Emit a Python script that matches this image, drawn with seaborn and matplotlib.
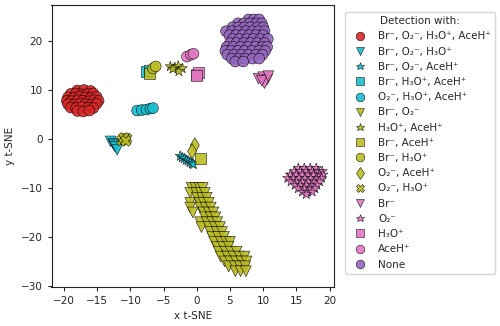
import matplotlib
matplotlib.use("Agg")
import matplotlib.pyplot as plt
import seaborn as sns
import pandas as pd

# ---- data ----
labels = [
    "Br⁻, O₂⁻, H₃O⁺, AceH⁺", "Br⁻, O₂⁻, H₃O⁺", "Br⁻, O₂⁻, AceH⁺", "Br⁻, H₃O⁺, AceH⁺",
    "O₂⁻, H₃O⁺, AceH⁺", "Br⁻, O₂⁻", "H₃O⁺, AceH⁺", "Br⁻, AceH⁺", "Br⁻, H₃O⁺",
    "O₂⁻, AceH⁺", "O₂⁻, H₃O⁺", "Br⁻", "O₂⁻", "H₃O⁺", "AceH⁺", "None",
]
colors = ["#d62728", "#17becf", "#17becf", "#17becf", "#17becf", "#bcbd22", "#bcbd22",
          "#bcbd22", "#bcbd22", "#bcbd22", "#bcbd22", "#e377c2", "#e377c2", "#e377c2",
          "#e377c2", "#9467bd"]
markers = ["o", "v", "*", "s", "o", "v", "*", "s", "o", "d", "X", "v", "*", "s", "o", "o"]

red_x = [-18.0, -17.0, -16.0,
         -19.0, -18.2, -17.4, -16.5, -15.6,
         -19.4, -18.5, -17.7, -16.8, -16.0, -15.1,
         -19.6, -18.9, -17.9, -17.2, -16.3, -15.5, -14.8,
         -19.4, -18.5, -17.6, -16.8, -15.9, -15.1,
         -19.0, -18.2, -17.3, -16.4, -15.6,
         -18.0, -17.1, -16.2]
red_y = [9.9, 10.0, 9.8,
         9.2, 9.3, 9.1, 9.2, 9.3,
         8.5, 8.4, 8.6, 8.5, 8.4, 8.6,
         7.8, 7.7, 7.9, 7.8, 7.7, 7.9, 7.8,
         7.1, 7.0, 7.2, 7.1, 7.0, 7.2,
         6.4, 6.3, 6.5, 6.4, 6.3,
         5.7, 5.6, 5.8]

cyan_tri_x = [-13.0, -12.6, -12.4, -12.3, -12.0]
cyan_tri_y = [-0.5, -1.0, -1.3, -1.6, -2.2]

cyan_star_x = [-2.5, -2.2, -1.9, -1.6, -1.3, -1.0, -0.7, -0.5]
cyan_star_y = [-3.5, -3.8, -4.0, -4.3, -4.5, -4.8, -5.0, -5.2]

cyan_sq_x = [-7.6, -7.2]
cyan_sq_y = [13.8, 14.0]

cyan_circ_x = [-9.0, -8.3, -7.6, -7.0, -6.6]
cyan_circ_y = [5.8, 5.9, 6.0, 6.2, 6.3]

olive_tri_x = [-0.8, -0.2, 0.4, 0.9,
               -1.0, -0.1, 0.6, 1.2,
               0.0, 0.8, 1.5,
               -1.0, 0.4, 1.0, 1.8,
               -1.0, 0.5, 1.3, 2.1,
               -0.6, 1.0, 1.8, 2.5,
               1.2, 2.1, 2.8,
               0.5, 1.5, 2.3, 3.1,
               0.7, 1.8, 2.7, 3.5,
               2.0, 3.0, 3.8,
               2.3, 3.2, 4.1,
               2.6, 3.6, 4.4, 5.0,
               3.0, 3.9, 4.8,
               3.3, 4.3, 5.1, 6.0,
               3.6, 4.6, 5.5, 6.4, 7.2,
               4.2, 5.0, 5.9, 6.7, 7.5,
               4.8, 5.7, 6.5, 7.3,
               5.8, 6.6, 7.4]
olive_tri_y = [-10.0] * 4 + [-11.0] * 4 + [-12.0] * 3 + [-13.0] * 4 + [-14.0] * 4 + \
              [-15.0] * 4 + [-16.0] * 3 + [-17.0] * 4 + [-18.0] * 4 + [-19.0] * 3 + \
              [-20.0] * 3 + [-21.0] * 4 + [-22.0] * 3 + [-23.0] * 4 + [-24.0] * 5 + \
              [-25.0] * 5 + [-26.0] * 4 + [-27.0] * 3

olive_star_x = [-4.0, -3.3, -2.8, -2.2, -2.7, -3.6]
olive_star_y = [14.8, 14.6, 14.9, 14.4, 13.8, 14.3]

olive_sq_x = [-7.1, 0.5]
olive_sq_y = [13.3, -4.0]

olive_circ_x = [-6.6, -6.2]
olive_circ_y = [14.4, 14.8]

olive_dia_x = [-0.3, -0.7]
olive_dia_y = [-1.3, -2.5]

olive_x_x = [-11.3, -10.6, -11.0, -10.7]
olive_x_y = [-0.3, 0.1, 0.2, -0.4]

pink_tri_x = [9.3, 10.0, 10.6, 10.2, 9.8, 10.8]
pink_tri_y = [12.3, 12.6, 12.1, 11.4, 11.9, 12.8]

pink_star_x = [15.3, 16.2, 17.1, 18.0,
               14.7, 15.6, 16.5, 17.4, 18.3, 18.9,
               14.1, 15.0, 15.9, 16.8, 17.6, 18.5, 19.0,
               13.7, 14.5, 15.4, 16.3, 17.2, 18.1, 18.8,
               14.2, 15.0, 15.9, 16.8, 17.7, 18.5,
               14.8, 15.6, 16.5, 17.4, 18.1,
               15.3, 16.2, 17.1, 17.8,
               15.9, 16.7, 17.4,
               16.5]
pink_star_y = [-6.0] * 4 + [-6.6] * 6 + [-7.3] * 7 + [-8.0] * 7 + [-8.7] * 6 + \
              [-9.4] * 5 + [-10.1] * 4 + [-10.8] * 3 + [-11.3]

pink_sq_x = [0.0, 0.2, -0.1]
pink_sq_y = [13.2, 13.6, 13.0]

pink_circ_x = [-1.5, -0.9, -0.5]
pink_circ_y = [16.8, 17.2, 17.4]

purple_x = [7.8, 8.6, 9.4,
            6.2, 7.1, 8.0, 9.0, 9.8,
            5.4, 6.3, 7.2, 8.1, 9.1, 10.0,
            4.4, 5.3, 6.3, 7.4, 8.4, 9.3, 10.2,
            4.9, 5.9, 6.9, 7.9, 8.9, 10.0,
            5.4, 6.4, 7.5, 8.5, 9.6, 10.7,
            5.0, 6.0, 7.1, 8.1, 9.1, 10.2,
            4.5, 5.5, 6.6, 7.7, 8.8, 9.9, 10.6,
            4.3, 5.2, 6.2, 7.2, 8.3, 9.4, 10.3,
            4.6, 5.6, 6.7, 7.8, 8.9, 9.9,
            5.3, 6.3, 7.3, 8.4, 9.4,
            5.8, 7.0]
purple_y = [24.4] * 3 + [23.6] * 5 + [22.8] * 6 + [22.0] * 7 + [21.2] * 6 + \
           [20.4] * 6 + [19.6] * 6 + [18.8] * 7 + [18.0] * 7 + [17.2] * 6 + \
           [16.4] * 5 + [15.8] * 2

xs = [red_x, cyan_tri_x, cyan_star_x, cyan_sq_x, cyan_circ_x, olive_tri_x, olive_star_x,
      olive_sq_x, olive_circ_x, olive_dia_x, olive_x_x, pink_tri_x, pink_star_x,
      pink_sq_x, pink_circ_x, purple_x]
ys = [red_y, cyan_tri_y, cyan_star_y, cyan_sq_y, cyan_circ_y, olive_tri_y, olive_star_y,
      olive_sq_y, olive_circ_y, olive_dia_y, olive_x_y, pink_tri_y, pink_star_y,
      pink_sq_y, pink_circ_y, purple_y]

rows = []
for lab, xx, yy in zip(labels, xs, ys):
    for a, b in zip(xx, yy):
        rows.append({"x": a, "y": b, "Detection with:": lab})
df = pd.DataFrame(rows)

sns.set_style("ticks")
plt.rcParams["font.family"] = ["DejaVu Sans"]

fig = plt.figure(figsize=(5, 3.26), dpi=100)
ax = fig.add_axes([0.103, 0.12, 0.566, 0.864])

sns.scatterplot(data=df, x="x", y="y", hue="Detection with:", style="Detection with:",
                hue_order=labels, style_order=labels,
                palette=dict(zip(labels, colors)), markers=dict(zip(labels, markers)),
                s=60, edgecolor="k", linewidth=0.4, alpha=0.9, ax=ax)

ax.set_xlim(-21.9, 20.75)
ax.set_ylim(-30.2, 27.3)
ax.set_xticks([-20, -15, -10, -5, 0, 5, 10, 15, 20])
ax.set_yticks([-30, -20, -10, 0, 10, 20])
ax.tick_params(labelsize=7.5, length=3)
for sp in ax.spines.values():
    sp.set_color("#222222")
ax.set_xlabel("x t-SNE", fontsize=7.5)
ax.set_ylabel("y t-SNE", fontsize=7.5)

handles, labs = ax.get_legend_handles_labels()
ax.get_legend().remove()
leg = fig.legend(handles, labs, title="Detection with:", loc="upper left",
                 bbox_to_anchor=(345 / 500, 1 - 12 / 326), borderaxespad=0,
                 fontsize=7.5, title_fontsize=7.5, frameon=True, labelspacing=0.5,
                 markerscale=0.8)
leg.get_frame().set_edgecolor("#cccccc")

fig.savefig("out.png", dpi=100)
